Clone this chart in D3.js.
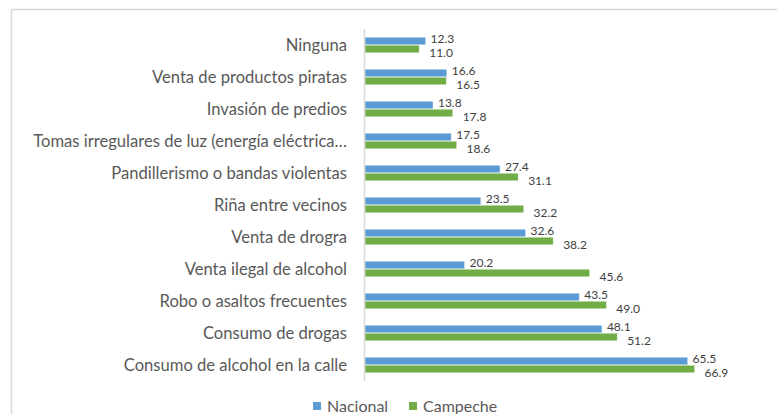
<!DOCTYPE html>
<html>
<head>
<meta charset="utf-8">
<script src="https://cdn.jsdelivr.net/npm/d3@7"></script>
<style>
  html, body { margin: 0; padding: 0; background: #fff; }
  svg { display: block; }
  text { font-family: Lato, "Open Sans", sans-serif; }
</style>
</head>
<body>
<svg id="chart" width="777" height="414"></svg>
<script>
const categories = [
  "Ninguna",
  "Venta de productos piratas",
  "Invasión de predios",
  "Tomas irregulares de luz (energía eléctrica…",
  "Pandillerismo o bandas violentas",
  "Riña entre vecinos",
  "Venta de drogra",
  "Venta ilegal de alcohol",
  "Robo o asaltos frecuentes",
  "Consumo de drogas",
  "Consumo de alcohol en la calle"
];
const nacional = [12.3, 16.6, 13.8, 17.5, 27.4, 23.5, 32.6, 20.2, 43.5, 48.1, 65.5];
const campeche = [11.0, 16.5, 17.8, 18.6, 31.1, 32.2, 38.2, 45.6, 49.0, 51.2, 66.9];
const seriesNames = ["Nacional", "Campeche"];
const seriesColors = ["#5B9BD5", "#70AD47"];

const svg = d3.select("#chart");
const W = 777, H = 414;

// chart frame
svg.append("path")
  .attr("d", `M11.5,${H} V9.5 H${W}`)
  .attr("fill", "none")
  .attr("stroke", "#d9d9d9")
  .attr("stroke-width", 1.5);

const x = d3.scaleLinear().domain([0, 80]).range([365, 759]);
const y = d3.scaleBand().domain(categories).range([29, 381]).paddingInner(0.5).paddingOuter(0.25);
const ySub = d3.scaleBand().domain(seriesNames).range([0, y.bandwidth()]);

// category labels
svg.append("g").selectAll("text")
  .data(categories)
  .join("text")
  .attr("x", 347)
  .attr("y", d => y(d) + y.bandwidth() / 2)
  .attr("dy", "0.35em")
  .attr("text-anchor", "end")
  .attr("fill", "#595959")
  .style("font-size", "16.6px")
  .text(d => d);

const rows = categories.map((c, i) => ({cat: c, vals: [nacional[i], campeche[i]]}));

const g = svg.append("g");
const grp = g.selectAll("g.row").data(rows).join("g")
  .attr("transform", d => `translate(0,${y(d.cat)})`);

grp.selectAll("rect")
  .data(d => d.vals.map((v, k) => ({v, k})))
  .join("rect")
  .attr("x", x(0))
  .attr("y", d => ySub(seriesNames[d.k]) + 0.3)
  .attr("width", d => x(d.v) - x(0))
  .attr("height", ySub.bandwidth() - 0.6)
  .attr("fill", d => seriesColors[d.k])
  .attr("stroke", "#ffffff")
  .attr("stroke-opacity", 0.45)
  .attr("stroke-width", 0.6);

grp.selectAll("text")
  .data(d => d.vals.map((v, k) => ({v, k})))
  .join("text")
  .attr("x", d => x(d.v) + (d.k === 0 ? 5 : 10))
  .attr("y", d => ySub(seriesNames[d.k]) + ySub.bandwidth() / 2 + (d.k === 0 ? -2.2 : 4))
  .attr("dy", "0.35em")
  .attr("fill", "#404040")
  .style("font-size", "12px")
  .text(d => d3.format(".1f")(d.v));

// y axis line
svg.append("line")
  .attr("x1", x(0) - 0.5).attr("x2", x(0) - 0.5)
  .attr("y1", 29).attr("y2", 381)
  .attr("stroke", "#d9d9d9")
  .attr("stroke-width", 1.5);

// legend
const legendX = [313, 409];
const lg = svg.append("g").selectAll("g").data(seriesNames).join("g")
  .attr("transform", (d, i) => `translate(${legendX[i]},402)`);
lg.append("rect").attr("width", 8).attr("height", 8).attr("fill", (d, i) => seriesColors[i]);
lg.append("text")
  .attr("x", 14).attr("y", 4).attr("dy", "0.35em")
  .attr("fill", "#595959")
  .style("font-size", "16px")
  .text(d => d);
</script>
</body>
</html>
